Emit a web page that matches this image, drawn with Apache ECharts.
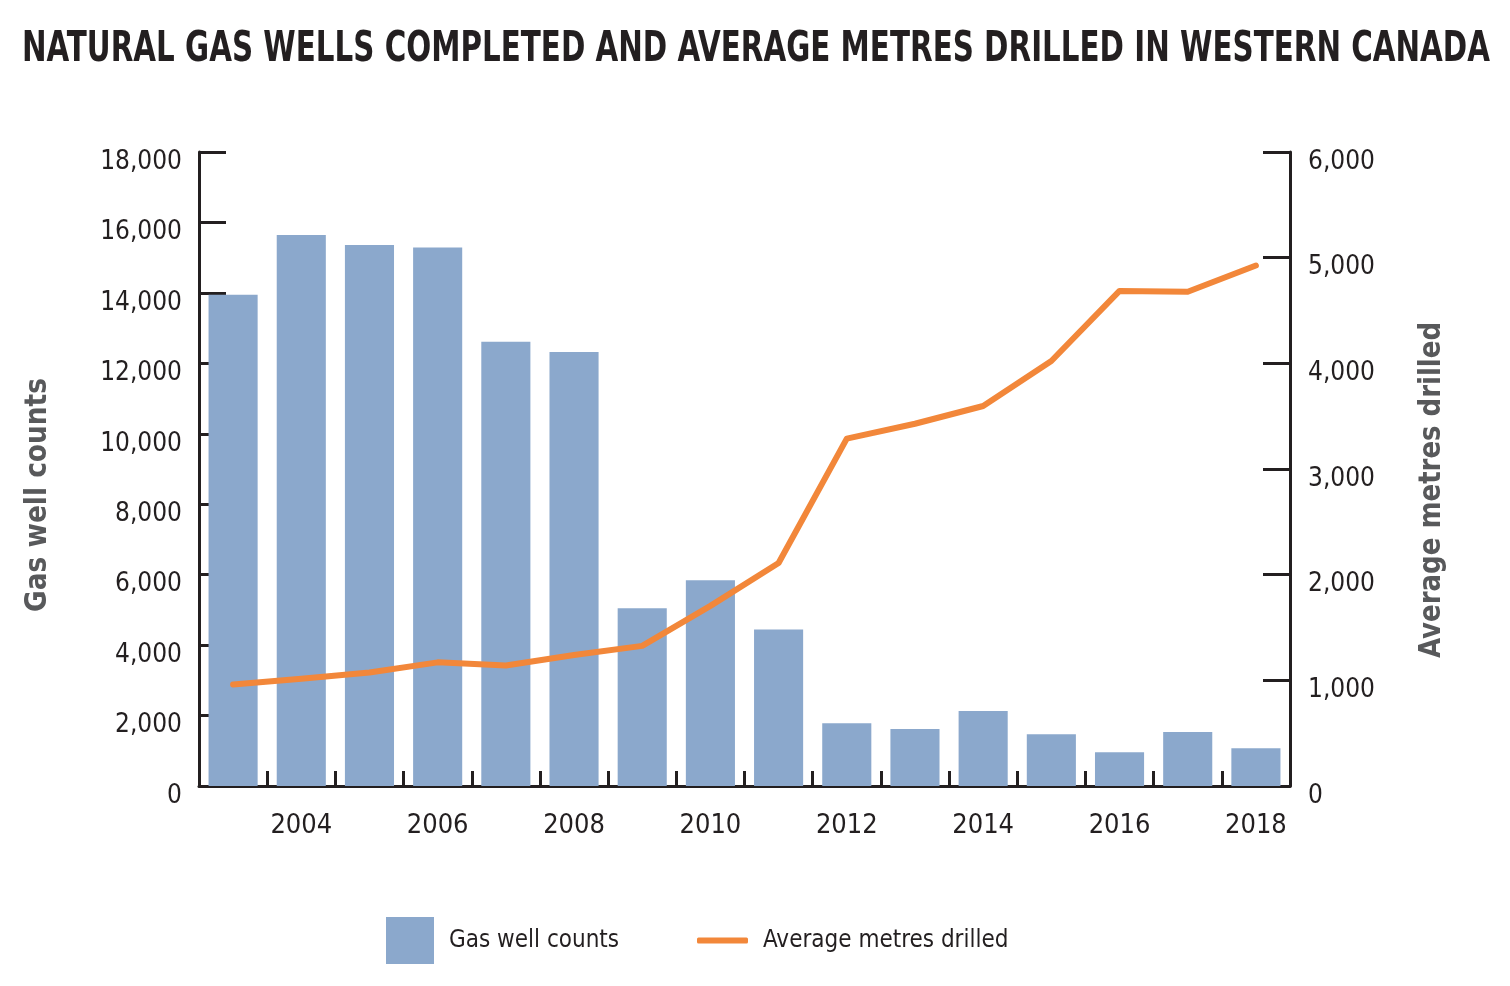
<!DOCTYPE html>
<html>
<head>
<meta charset="utf-8">
<script src="https://cdn.jsdelivr.net/npm/echarts@6/dist/echarts.min.js"></script>
<style>
html,body{margin:0;padding:0;background:#fff;}
#main{width:1510px;height:986px;}
</style>
</head>
<body>
<div id="main"></div>
<script>
const years = ['2003','2004','2005','2006','2007','2008','2009','2010','2011','2012','2013','2014','2015','2016','2017','2018'];
const gasWellCounts = [13950, 15640, 15360, 15290, 12610, 12320, 5050, 5840, 4440, 1780, 1620, 2130, 1470, 960, 1530, 1070];
const avgMetresDrilled = [960, 1015, 1075, 1170, 1140, 1240, 1326, 1705, 2110, 3288, 3428, 3596, 4022, 4685, 4678, 4926];
const leftTicks = {min: 0, max: 18000, interval: 2000};
const rightTicks = {min: 0, max: 6000, interval: 1000};
const titleText = 'NATURAL GAS WELLS COMPLETED AND AVERAGE METRES DRILLED IN WESTERN CANADA';
const leftName = 'Gas well counts';
const rightName = 'Average metres drilled';

const FONT = "'Liberation Sans Narrow','DejaVu Sans Condensed','Arial Narrow',sans-serif";
const INK = '#231F20';
const GREY = '#58595B';
const BAR = '#8BA8CC';
const LINE = '#F2873A';

const cv = document.createElement('canvas').getContext('2d');
function fitScale(text, font, target) {
  cv.font = font;
  return target / cv.measureText(text).width;
}
const titleFont = "bold 42px " + FONT;
const nameFont = "bold 31px " + FONT;
const titleScale = fitScale(titleText, titleFont, 1468);
const leftNameScale = fitScale(leftName, nameFont, 234);
const rightNameScale = fitScale(rightName, nameFont, 336);

const fmt = v => v.toLocaleString('en-US');

const chart = echarts.init(document.getElementById('main'), null, {renderer: 'canvas'});
chart.setOption({
  backgroundColor: '#ffffff',
  animation: false,
  graphic: [{
    type: 'text', x: 22, y: 50, scaleX: titleScale,
    style: {text: titleText, font: titleFont, fill: INK, textVerticalAlign: 'middle', textAlign: 'left'}
  }, {
    type: 'text', x: 38, y: 495, rotation: Math.PI / 2, scaleX: leftNameScale,
    style: {text: leftName, font: nameFont, fill: GREY, textVerticalAlign: 'middle', textAlign: 'center'}
  }, {
    type: 'text', x: 1432, y: 490, rotation: Math.PI / 2, scaleX: rightNameScale,
    style: {text: rightName, font: nameFont, fill: GREY, textVerticalAlign: 'middle', textAlign: 'center'}
  }],
  legend: [{
    data: ['Gas well counts'], left: 386, top: 917, padding: 0, icon: 'rect',
    itemWidth: 48, itemHeight: 47,
    textStyle: {fontFamily: FONT, fontSize: 24, color: INK, lineHeight: 47, padding: [0,0,0,10]}
  }, {
    data: ['Average metres drilled'], left: 697, top: 917, padding: 0, icon: 'roundRect',
    itemWidth: 51, itemHeight: 6,
    textStyle: {fontFamily: FONT, fontSize: 24, color: INK, lineHeight: 47, padding: [0,0,0,10]}
  }],
  grid: {left: 199, right: 220, top: 152, bottom: 200, containLabel: false},
  xAxis: {
    type: 'category', data: years, boundaryGap: true,
    axisLine: {lineStyle: {color: INK, width: 3}},
    axisTick: {show: true, inside: true, length: 15, interval: 0, lineStyle: {color: INK, width: 3}},
    axisLabel: {interval: (i) => i % 2 === 1, fontFamily: FONT, fontSize: 27, color: INK, margin: 26},
    splitLine: {show: false}
  },
  yAxis: [{
    type: 'value', position: 'left', min: leftTicks.min, max: leftTicks.max, interval: leftTicks.interval,
    axisLine: {show: true, lineStyle: {color: INK, width: 3}},
    axisTick: {show: true, inside: true, length: 27, lineStyle: {color: INK, width: 3}},
    axisLabel: {formatter: fmt, fontFamily: FONT, fontSize: 26, color: INK, margin: 17, verticalAlign: 'top', lineHeight: 20},
    splitLine: {show: false}
  }, {
    type: 'value', position: 'right', min: rightTicks.min, max: rightTicks.max, interval: rightTicks.interval,
    axisLine: {show: true, lineStyle: {color: INK, width: 3}},
    axisTick: {show: true, inside: true, length: 27, lineStyle: {color: INK, width: 3}},
    axisLabel: {formatter: fmt, fontFamily: FONT, fontSize: 26, color: INK, margin: 18, verticalAlign: 'top', lineHeight: 20},
    splitLine: {show: false}
  }],
  series: [{
    name: 'Gas well counts', type: 'bar', data: gasWellCounts, yAxisIndex: 0,
    barWidth: '72%', itemStyle: {color: BAR}, z: 2
  }, {
    name: 'Average metres drilled', type: 'line', data: avgMetresDrilled, yAxisIndex: 1,
    symbol: 'none', lineStyle: {color: LINE, width: 6, cap: 'round', join: 'round'},
    itemStyle: {color: LINE}, z: 3
  }]
});
</script>
</body>
</html>
